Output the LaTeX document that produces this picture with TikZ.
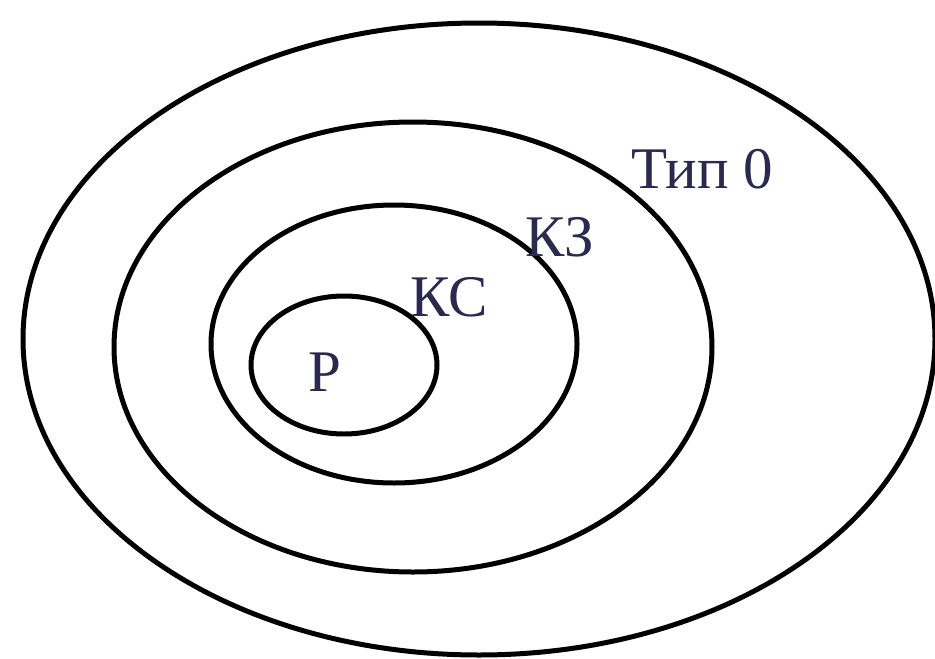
\documentclass[tikz,border=0pt]{standalone}
\usepackage{fontspec}
\setmainfont{Liberation Serif}
\definecolor{labelcol}{HTML}{2A2A4E}
\begin{document}
\begin{tikzpicture}[x=1pt,y=-1pt,
  ring/.style={draw=black,line width=5pt},
  lbl/.style={anchor=base west,inner sep=0pt,text=labelcol,font=\fontsize{59}{62}\selectfont}]
\useasboundingbox (0,0) rectangle (935,659);
\fill[white] (0,0) rectangle (935,659);
\draw[ring] (479,339) ellipse [x radius=456, y radius=316];
\draw[ring] (413,347) ellipse [x radius=299, y radius=225];
\draw[ring] (394,344) ellipse [x radius=183, y radius=139];
\draw[ring] (344,365) ellipse [x radius=93, y radius=69];
\node[lbl] (t0) at (631,188) {Тип 0};
\node[lbl] (kz) at (525,256) {КЗ};
\node[lbl] (ks) at (410,316) {КС};
\node[lbl] (p) at (308,391) {Р};
\end{tikzpicture}
\end{document}
